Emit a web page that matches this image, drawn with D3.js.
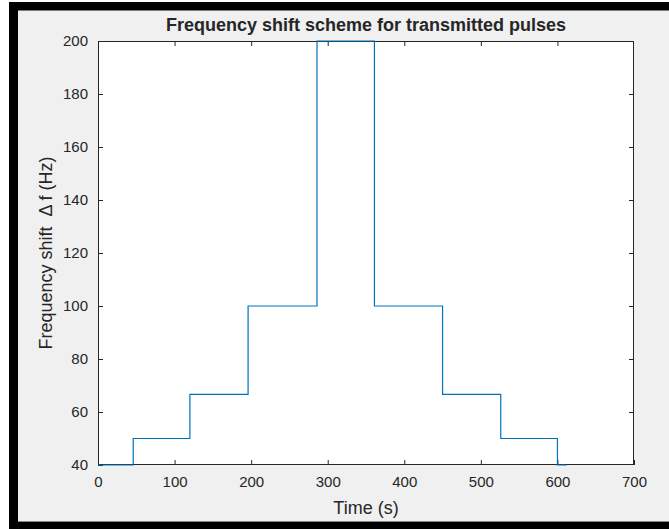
<!DOCTYPE html>
<html>
<head>
<meta charset="utf-8">
<script src="https://cdn.jsdelivr.net/npm/d3@7"></script>
<style>
  html, body { margin: 0; padding: 0; background: #ffffff; }
  svg { display: block; }
  text { font-family: "Liberation Sans", Arial, Helvetica, sans-serif; fill: #262626; }
</style>
</head>
<body>
<svg id="chart" width="669" height="529"></svg>
<script>
// Step boundaries (s) and the frequency shift held within each step (Hz)
const stepTimes = [0, 46, 120, 196, 286, 361, 450, 526, 600, 612];
const stepShift = [40, 50, 66.67, 100, 200, 100, 66.67, 50, 40];

const xTicks = [0, 100, 200, 300, 400, 500, 600, 700];
const yTicks = [40, 60, 80, 100, 120, 140, 160, 180, 200];

const titleText = "Frequency shift scheme for transmitted pulses";
const xLabelText = "Time (s)";
const yLabelText = "Frequency shift  \u0394 f (Hz)";

const W = 669, H = 529;
const plot = { left: 98, top: 41, right: 634, bottom: 465 };

const svg = d3.select("#chart");

// Figure window frame
svg.append("rect").attr("x", 9).attr("y", 2).attr("width", W - 9).attr("height", H - 2).attr("fill", "#000");
svg.append("rect").attr("x", 18).attr("y", 11).attr("width", W - 18).attr("height", 510).attr("fill", "#f0f0f0");
svg.append("line").attr("x1", 18).attr("x2", W).attr("y1", 10.5).attr("y2", 10.5).attr("stroke", "#7a7a7a");
svg.append("line").attr("x1", 18).attr("x2", W).attr("y1", 521.5).attr("y2", 521.5).attr("stroke", "#8a8a8a");

const x = d3.scaleLinear().domain([0, 700]).range([plot.left, plot.right]);
const y = d3.scaleLinear().domain([40, 200]).range([plot.bottom, plot.top]);

// Axes background
svg.append("rect")
  .attr("x", plot.left).attr("y", plot.top)
  .attr("width", plot.right - plot.left).attr("height", plot.bottom - plot.top)
  .attr("fill", "#ffffff");

const tickLen = 5;
const fontSize = "15px";

function styleAxis(g) {
  g.selectAll(".domain").remove();
  g.selectAll(".tick line").attr("stroke", "#262626");
  g.selectAll(".tick text").style("font-size", fontSize).attr("fill", "#262626");
}

// Bottom & top axes (ticks point inward)
svg.append("g")
  .attr("transform", `translate(0,${plot.bottom})`)
  .call(d3.axisBottom(x).tickValues(xTicks).tickSize(-tickLen).tickPadding(11).tickFormat(d3.format("d")))
  .call(styleAxis);
svg.append("g")
  .attr("transform", `translate(0,${plot.top})`)
  .call(d3.axisTop(x).tickValues(xTicks.filter(v => v > 0 && v < 700)).tickSize(-tickLen).tickFormat(""))
  .call(styleAxis);

// Left & right axes
svg.append("g")
  .attr("transform", `translate(${plot.left},0)`)
  .call(d3.axisLeft(y).tickValues(yTicks).tickSize(-tickLen).tickPadding(10).tickFormat(d3.format("d")))
  .call(styleAxis);
svg.append("g")
  .attr("transform", `translate(${plot.right},0)`)
  .call(d3.axisRight(y).tickValues(yTicks.filter(v => v > 40 && v < 200)).tickSize(-tickLen).tickFormat(""))
  .call(styleAxis);

// Box outline
svg.append("rect")
  .attr("x", plot.left + 0.5).attr("y", plot.top + 0.5)
  .attr("width", plot.right - plot.left - 1).attr("height", plot.bottom - plot.top - 1)
  .attr("fill", "none").attr("stroke", "#262626").attr("stroke-width", 1);

// Step curve
const pts = stepShift.map((f, i) => [stepTimes[i], f]);
pts.push([stepTimes[stepTimes.length - 1], stepShift[stepShift.length - 1]]);

const line = d3.line()
  .x(d => x(d[0]))
  .y(d => y(d[1]))
  .curve(d3.curveStepAfter);

svg.append("path")
  .datum(pts)
  .attr("d", line)
  .attr("fill", "none")
  .attr("stroke", "#0072bd")
  .attr("stroke-width", 1.2);

// Title and axis labels
svg.append("text")
  .attr("x", (plot.left + plot.right) / 2).attr("y", 31)
  .attr("text-anchor", "middle")
  .style("font-size", "18px").style("font-weight", "bold")
  .attr("fill", "#000")
  .text(titleText);

svg.append("text")
  .attr("x", (plot.left + plot.right) / 2).attr("y", 514)
  .attr("text-anchor", "middle")
  .style("font-size", "18px")
  .text(xLabelText);

svg.append("text")
  .attr("transform", `translate(52,${(plot.top + plot.bottom) / 2}) rotate(-90)`)
  .attr("text-anchor", "middle")
  .style("font-size", "18px")
  .style("white-space", "pre")
  .text(yLabelText);
</script>
</body>
</html>
